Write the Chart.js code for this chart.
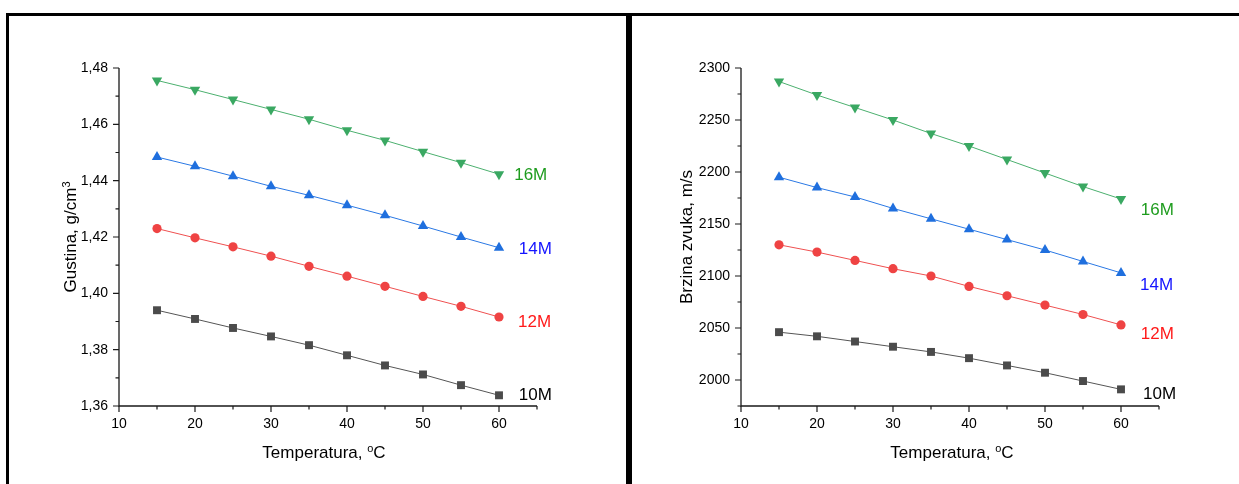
<!DOCTYPE html>
<html><head><meta charset="utf-8">
<script src="https://cdn.jsdelivr.net/npm/chart.js@4.4.1/dist/chart.umd.min.js"></script>
<style>
html,body{margin:0;padding:0;background:#fff;}
#wrap{position:relative;width:1239px;height:484px;overflow:hidden;background:#fff;}
canvas{position:absolute;top:0;}
.b{position:absolute;background:#000;}
</style></head><body>
<div id="wrap">
<canvas id="c1" width="626" height="484" style="left:0;width:626px;height:484px"></canvas>
<canvas id="c2" width="607" height="484" style="left:632px;width:607px;height:484px"></canvas>
<div class="b" style="left:6px;top:13px;width:1233px;height:3px"></div>
<div class="b" style="left:6px;top:13px;width:3px;height:471px"></div>
<div class="b" style="left:626px;top:13px;width:6px;height:471px"></div>
</div>
<script>
// ---- data ----
const temps = [15, 20, 25, 30, 35, 40, 45, 50, 55, 60];
const seriesNames = ['10M', '12M', '14M', '16M'];

const gustina10M = [1.3940, 1.3909, 1.3877, 1.3847, 1.3816, 1.3780, 1.3744, 1.3712, 1.3674, 1.3638];
const gustina12M = [1.4230, 1.4197, 1.4165, 1.4132, 1.4096, 1.4061, 1.4025, 1.3989, 1.3954, 1.3916];
const gustina14M = [1.4484, 1.4451, 1.4416, 1.4380, 1.4348, 1.4313, 1.4277, 1.4239, 1.4200, 1.4162];
const gustina16M = [1.4756, 1.4723, 1.4688, 1.4653, 1.4618, 1.4579, 1.4543, 1.4503, 1.4464, 1.4423];

const brzina10M = [2046, 2042, 2037, 2032, 2027, 2021, 2014, 2007, 1999, 1991];
const brzina12M = [2130, 2123, 2115, 2107, 2100, 2090, 2081, 2072, 2063, 2053];
const brzina14M = [2195, 2185, 2176, 2165, 2155, 2145, 2135, 2125, 2114, 2103];
const brzina16M = [2287, 2274, 2262, 2250, 2237, 2225, 2212, 2199, 2186, 2174];

const xTicks = {min: 10, max: 65, step: 5};
const yTicksGustina = {min: 1.36, max: 1.48, step: 0.01};
const yTicksBrzina = {min: 1975, max: 2300, step: 25};

// label anchor positions (data coords)
const gustinaLabelPos = [[62.6, 1.3638], [62.5, 1.3898], [62.6, 1.4156], [62.0, 1.4419]];
const brzinaLabelPos = [[62.9, 1986], [62.6, 2044], [62.5, 2091], [62.6, 2163]];

// ---- styles ----
const markerColors = ['#4b4b4b', '#ef4343', '#1f6fde', '#3aa862'];
const lineColors = ['#555555', '#ef5050', '#2a78e4', '#4cb06f'];
const labelColors = ['#000000', '#ff1a1a', '#1414ff', '#1e9c1e'];
const shapes = [
  {pointStyle: 'rect', radius: 5.6, rotation: 0},
  {pointStyle: 'circle', radius: 4.6, rotation: 0},
  {pointStyle: 'triangle', radius: 6.0, rotation: 0},
  {pointStyle: 'triangle', radius: 6.0, rotation: 180}
];
const FONT = '"Liberation Sans", Arial, sans-serif';

function drawRich(ctx, parts, x, y, size) {
  let w = 0;
  parts.forEach(p => {
    ctx.font = (p.sup ? Math.round(size * 0.62) : size) + 'px ' + FONT;
    p.w = ctx.measureText(p.t).width;
    w += p.w;
  });
  let cx = x - w / 2;
  parts.forEach(p => {
    ctx.font = (p.sup ? Math.round(size * 0.62) : size) + 'px ' + FONT;
    ctx.fillText(p.t, cx, p.sup ? y - size * 0.36 : y);
    cx += p.w;
  });
}

const decorPlugin = {
  id: 'decor',
  afterDraw(chart, args, o) {
    const ctx = chart.ctx;
    const xs = chart.scales.x, ys = chart.scales.y;
    const a = chart.chartArea;
    ctx.save();
    ctx.strokeStyle = '#1a1a1a';
    ctx.lineWidth = 1.3;
    ctx.beginPath();
    ctx.moveTo(a.left, a.top); ctx.lineTo(a.left, a.bottom); ctx.lineTo(a.right, a.bottom);
    ctx.stroke();
    ctx.lineWidth = 1.2;
    ctx.beginPath();
    xs.ticks.forEach(t => {
      const px = xs.getPixelForValue(t.value);
      const major = Math.round(t.value) % 10 === 0;
      ctx.moveTo(px, a.bottom); ctx.lineTo(px, a.bottom + (major ? 6 : 3.5));
    });
    ys.ticks.forEach(t => {
      const py = ys.getPixelForValue(t.value);
      const major = o.isMajorY(t.value);
      ctx.moveTo(a.left, py); ctx.lineTo(a.left - (major ? 6 : 3.5), py);
    });
    ctx.stroke();
    // axis titles
    ctx.fillStyle = '#000';
    ctx.textBaseline = 'alphabetic';
    ctx.textAlign = 'left';
    drawRich(ctx, o.xTitle, o.xTitleX, 458, 17);
    ctx.save();
    ctx.translate(o.yTitleX, (a.top + a.bottom) / 2);
    ctx.rotate(-Math.PI / 2);
    drawRich(ctx, o.yTitle, 0, 0, 17);
    ctx.restore();
    // series labels
    ctx.font = '17px ' + FONT;
    ctx.textBaseline = 'middle';
    o.labels.forEach((p, i) => {
      ctx.fillStyle = labelColors[i];
      ctx.fillText(seriesNames[i], xs.getPixelForValue(p[0]), ys.getPixelForValue(p[1]));
    });
    ctx.restore();
  }
};

function makeChart(id, seriesArr, yt, yFmt, isMajorY, padRight, yAxisW, opts) {
  const datasets = seriesArr.map((vals, i) => ({
    label: seriesNames[i],
    data: temps.map((t, j) => ({x: t, y: vals[j]})),
    borderColor: lineColors[i],
    borderWidth: 1,
    backgroundColor: markerColors[i],
    pointBackgroundColor: markerColors[i],
    pointBorderColor: markerColors[i],
    pointBorderWidth: 0,
    pointStyle: shapes[i].pointStyle,
    pointRadius: shapes[i].radius,
    pointRotation: shapes[i].rotation,
    tension: 0,
    fill: false
  }));
  return new Chart(document.getElementById(id), {
    type: 'line',
    data: {datasets},
    plugins: [decorPlugin],
    options: {
      responsive: false,
      animation: false,
      devicePixelRatio: 1,
      layout: {padding: {left: 0, top: 68, right: padRight, bottom: 0}},
      plugins: {legend: {display: false}, tooltip: {enabled: false},
        decor: Object.assign({isMajorY}, opts)},
      scales: {
        x: {
          type: 'linear', min: xTicks.min, max: xTicks.max,
          grid: {display: false, drawTicks: false},
          border: {display: false},
          ticks: {stepSize: xTicks.step, autoSkip: false, maxRotation: 0, padding: 10,
            color: '#000', font: {family: FONT, size: 14},
            callback: v => (Math.round(v) % 10 === 0 && v <= 60) ? String(v) : ''},
          afterFit: s => { s.height = 78; }
        },
        y: {
          type: 'linear', min: yt.min, max: yt.max,
          grid: {display: false, drawTicks: false},
          border: {display: false},
          ticks: {stepSize: yt.step, autoSkip: false, padding: 11,
            color: '#000', font: {family: FONT, size: 14},
            callback: v => isMajorY(v) ? yFmt(v) : ''},
          afterFit: s => { s.width = yAxisW; }
        }
      }
    }
  });
}

makeChart('c1', [gustina10M, gustina12M, gustina14M, gustina16M], yTicksGustina,
  v => v.toFixed(2).replace('.', ','),
  v => Math.round(v * 100) % 2 === 0,
  626 - 537, 119,
  {xTitle: [{t: 'Temperatura, '}, {t: 'o', sup: true}, {t: 'C'}], xTitleX: 324,
   yTitle: [{t: 'Gustina, g/cm'}, {t: '3', sup: true}], yTitleX: 76,
   labels: gustinaLabelPos});

makeChart('c2', [brzina10M, brzina12M, brzina14M, brzina16M], yTicksBrzina,
  v => String(Math.round(v)),
  v => Math.round(v) % 50 === 0,
  607 - 527, 109,
  {xTitle: [{t: 'Temperatura, '}, {t: 'o', sup: true}, {t: 'C'}], xTitleX: 320,
   yTitle: [{t: 'Brzina zvuka, m/s'}], yTitleX: 692 - 632,
   labels: brzinaLabelPos});
</script>
</body></html>
